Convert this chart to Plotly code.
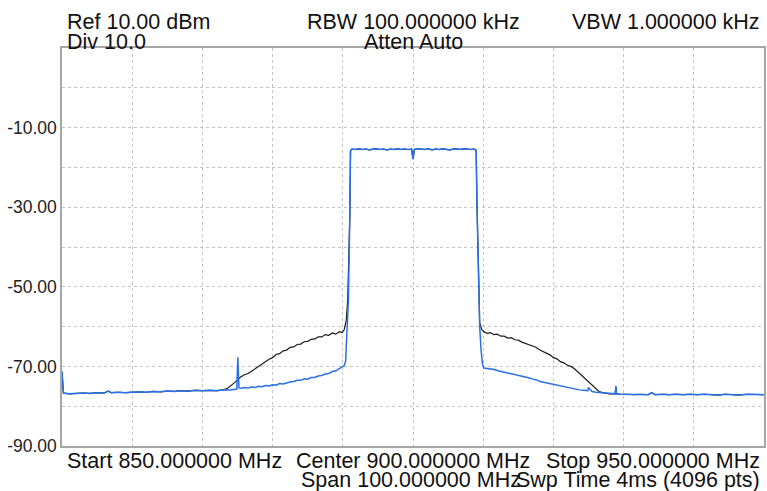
import plotly.graph_objects as go

# ---------------- data ----------------
# common noise floor, left side (MHz, dBm)
floor_left_f = [850.0, 850.1, 850.2, 851, 852, 853, 854, 855, 856, 856.6, 857, 858, 859, 860,
                861, 862, 863, 864, 865, 866, 867, 868, 869, 870, 871, 872, 873]
floor_left_db = [-71.3, -75.5, -76.7, -76.9, -76.8, -76.7, -76.8, -76.6, -76.7, -76.2, -76.6, -76.5,
                 -76.6, -76.5, -76.4, -76.5, -76.3, -76.4, -76.2, -76.3, -76.1, -76.2, -76.0, -76.1,
                 -76.0, -76.1, -75.9]

# blue trace, lower adjacent channel
blue_left_f = [874.0, 874.9, 875.05, 875.2, 875.6, 876, 876.5, 877, 877.5, 878, 878.5, 879, 879.5,
               880, 880.5, 881, 881.5, 882, 882.5, 883, 883.5, 884, 884.5, 885, 885.5, 886, 886.5,
               887, 887.5, 888, 888.5, 889, 889.5, 889.9, 890.2, 890.4, 890.6, 890.8, 891.0]
blue_left_db = [-75.9, -75.7, -67.7, -75.4, -75.5, -75.3, -75.4, -75.2, -75.3, -75.0, -75.1, -74.8,
                -74.9, -74.6, -74.7, -74.3, -74.4, -74.1, -73.9, -73.8, -73.5, -73.5, -73.1, -73.2,
                -72.8, -72.8, -72.4, -72.3, -71.9, -71.8, -71.3, -71.1, -70.5, -70.2, -69.8, -68.7,
                -61.7, -53.2, -32.0]

# channel plateau
plateau_f = [891.1, 891.3, 891.8, 892.3, 892.8, 893.3, 893.8, 894.3, 894.8, 895.3, 895.8, 896.3,
             896.8, 897.3, 897.8, 898.3, 898.8, 899.3, 899.8, 900.0, 900.2, 900.7, 901.2, 901.7,
             902.2, 902.7, 903.2, 903.7, 904.2, 904.7, 905.2, 905.7, 906.2, 906.7, 907.2, 907.7,
             908.2, 908.7, 909.0, 909.1, 909.3]
plateau_db = [-15.8, -15.4, -15.5, -15.3, -15.5, -15.4, -15.6, -15.4, -15.3, -15.5, -15.4, -15.6,
              -15.4, -15.5, -15.3, -15.5, -15.4, -15.5, -15.4, -17.9, -15.5, -15.3, -15.4, -15.5,
              -15.3, -15.6, -15.4, -15.5, -15.3, -15.5, -15.6, -15.4, -15.3, -15.5, -15.3, -15.4,
              -15.5, -15.4, -15.7, -28.0, -48.0]

# blue trace, upper adjacent channel
blue_right_f = [909.5, 909.7, 909.9, 910.1, 910.6, 911.1, 911.6, 912.1, 912.6, 913.1, 913.6, 914.1,
                914.6, 915.1, 915.6, 916.1, 916.6, 917.1, 917.6, 918.1, 918.6, 919.1, 919.6, 920.1,
                920.7, 921.3, 921.9, 922.5, 923.1, 923.7, 924.3, 924.9, 925.0, 925.5, 926.1, 926.7,
                927.4, 928.0, 928.8]
blue_right_db = [-60.0, -66.0, -69.5, -70.4, -70.5, -70.7, -70.8, -71.1, -71.3, -71.4, -71.7, -71.8,
                 -72.0, -72.3, -72.4, -72.7, -72.9, -73.2, -73.4, -73.8, -74.0, -74.2, -74.4, -74.6,
                 -74.8, -75.0, -75.2, -75.5, -75.7, -75.9, -76.0, -76.1, -75.3, -76.3, -76.5, -76.6,
                 -76.8, -76.9, -76.9]

# black trace, lower adjacent channel
black_left_f = [873.5, 874.0, 874.5, 875.0, 875.5, 876.0, 876.5, 877.0, 877.5, 878.0, 878.5, 879.0,
                879.5, 880.0, 880.5, 881.0, 881.5, 882.0, 882.5, 883.0, 883.5, 884.0, 884.5, 885.0,
                885.5, 886.0, 886.5, 887.0, 887.5, 888.0, 888.5, 889.0, 889.5, 889.9, 890.2, 890.5,
                890.7, 891.0]
black_left_db = [-75.6, -75.0, -74.2, -73.4, -72.6, -72.1, -71.8, -71.2, -70.6, -70.1, -69.3, -68.9,
                 -68.2, -67.8, -67.0, -66.8, -66.1, -65.9, -65.2, -65.1, -64.5, -64.4, -63.8, -63.7,
                 -63.2, -63.1, -62.6, -62.6, -62.0, -62.2, -61.6, -61.9, -61.3, -61.5, -60.8, -58.3,
                 -53.2, -32.0]

# black trace, upper adjacent channel
black_right_f = [909.5, 909.8, 910.2, 910.6, 911.0, 911.5, 912.0, 912.5, 913.0, 913.5, 914.0, 914.5,
                 915.0, 915.5, 916.0, 916.5, 917.0, 917.5, 918.0, 918.5, 919.0, 919.5, 920.0, 920.5,
                 921.0, 921.5, 922.0, 922.5, 923.0, 923.5, 924.0, 924.5, 925.0, 925.5, 926.0, 926.5,
                 927.0, 927.5, 928.0, 928.8]
black_right_db = [-59.0, -60.8, -61.4, -61.7, -61.5, -62.0, -61.9, -62.4, -62.4, -62.9, -62.8, -63.3,
                  -63.4, -63.9, -64.2, -64.5, -65.0, -65.2, -65.8, -66.2, -66.8, -67.1, -67.8, -68.1,
                  -68.8, -69.1, -69.7, -70.0, -70.6, -71.4, -72.2, -73.1, -73.8, -74.7, -75.6, -76.3,
                  -76.6, -76.8, -76.9, -76.9]

# common noise floor, right side
floor_right_f = [928.9, 929.0, 929.5, 930.5, 931.5, 932.5, 933.5, 934.0, 934.5, 935.5, 936.5, 937.5,
                 938.5, 939.5, 940.5, 941.5, 942.5, 943.5, 944.5, 945.5, 946.5, 947.5, 948.5, 949.5, 950.0]
floor_right_db = [-75.0, -76.9, -77.0, -77.0, -77.1, -77.0, -77.1, -76.6, -77.1, -77.0, -77.1, -77.0,
                  -77.1, -77.0, -77.1, -77.0, -77.1, -77.2, -77.0, -77.1, -77.2, -77.0, -77.1, -77.2, -77.1]

y_tick_vals = [-90, -80, -70, -60, -50, -40, -30, -20, -10, 0, 10]
y_tick_text = ["-90.00", "", "-70.00", "", "-50.00", "", "-30.00", "", "-10.00", "", ""]

header = [
    ("Ref 10.00 dBm", 65, 21.5, "left"),
    ("RBW 100.000000 kHz", 414, 21.5, "center"),
    ("VBW 1.000000 kHz", 764, 21.5, "right"),
    ("Div 10.0", 65, 42, "left"),
    ("Atten Auto", 414, 42, "center"),
    ("Start 850.000000 MHz", 65, 461, "left"),
    ("Center 900.000000 MHz", 414, 461, "center"),
    ("Stop 950.000000 MHz", 764, 461, "right"),
    ("Span 100.000000 MHz", 412, 480, "center"),
    ("Swp Time 4ms (4096 pts)", 764, 480, "right"),
]

# ---------------- build traces ----------------
black_f = floor_left_f + black_left_f + plateau_f + black_right_f + floor_right_f
black_db = floor_left_db + black_left_db + plateau_db + black_right_db + floor_right_db
blue_f = floor_left_f + blue_left_f + plateau_f + blue_right_f + floor_right_f
blue_db = floor_left_db + blue_left_db + plateau_db + blue_right_db + floor_right_db

W, H = 767, 491
L, R, T, B = 62, 1, 48, 45
pw, ph = W - L - R, H - T - B

fig = go.Figure()
fig.add_trace(go.Scatter(x=black_f, y=black_db, mode="lines",
                         line=dict(color="#1c1c1c", width=1.2), showlegend=False))
fig.add_trace(go.Scatter(x=blue_f, y=blue_db, mode="lines",
                         line=dict(color="#2b6fe6", width=1.5), showlegend=False))

font = dict(family="Liberation Sans, Arial, sans-serif", size=21.5, color="#111111")
for text, px, py, anchor in header:
    fig.add_annotation(text=text, xref="paper", yref="paper",
                       x=(px - L) / pw, y=(H - B - py) / ph,
                       xanchor=anchor, yanchor="middle", showarrow=False,
                       font=font)

fig.update_layout(
    width=W, height=H,
    margin=dict(l=L, r=R, t=T, b=B),
    paper_bgcolor="white", plot_bgcolor="white",
    xaxis=dict(range=[850, 950], dtick=10, tick0=850, showticklabels=False,
               showgrid=True, gridcolor="#c4c4c4", griddash="dot", gridwidth=1,
               showline=True, linecolor="#a6a6a6", linewidth=1.5, mirror=True,
               zeroline=False, ticks="", ticklen=0),
    yaxis=dict(range=[-90, 10], tickvals=y_tick_vals, ticktext=y_tick_text,
               showgrid=True, gridcolor="#c4c4c4", griddash="dot", gridwidth=1,
               showline=True, linecolor="#a6a6a6", linewidth=1.5, mirror=True,
               zeroline=False, ticks="", ticklen=0, ticklabelstandoff=0,
               tickfont=dict(family="Liberation Sans, Arial, sans-serif", size=17.5, color="#222222")),
)

fig.write_html("out.html", config={"displayModeBar": False},
               post_script="document.body.style.margin='0px';document.body.style.overflow='hidden';")
